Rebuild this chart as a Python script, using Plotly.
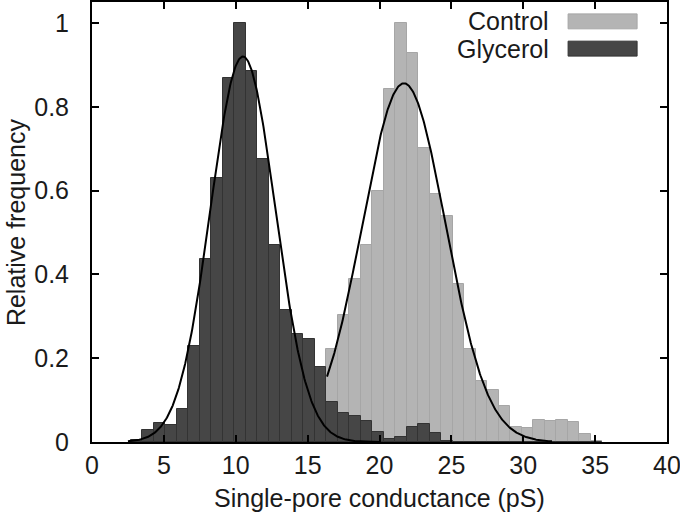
import numpy as np
import plotly.graph_objects as go

# Bin centres (pS), bin width 0.8
bin_centers = [3.1, 3.9, 4.7, 5.5, 6.3, 7.1, 7.9, 8.7, 9.5, 10.3, 11.1, 11.9, 12.7, 13.5,
               14.3, 15.1, 15.9, 16.7, 17.5, 18.3, 19.1, 19.9, 20.7, 21.5, 22.3, 23.1,
               23.9, 24.7, 25.5, 26.3, 27.1, 27.9, 28.7, 29.5, 30.3, 31.1, 31.9, 32.7,
               33.5, 34.3, 35.1]
bin_width = 0.8

glycerol = [0.005, 0.029, 0.045, 0.040, 0.078, 0.230, 0.437, 0.629, 0.869, 1.0,
            0.886, 0.675, 0.471, 0.314, 0.257, 0.246, 0.179, 0.096, 0.069, 0.061,
            0.049, 0.025, 0.006, 0.013, 0.035, 0.043, 0.021, 0.003,
            0, 0, 0, 0, 0, 0, 0, 0, 0, 0, 0, 0, 0]

control = [0, 0, 0, 0, 0, 0, 0, 0, 0, 0, 0, 0, 0, 0,
           0.01, 0.04, 0.12, 0.222, 0.304, 0.389, 0.47, 0.60, 0.842, 1.0, 0.928,
           0.701, 0.591, 0.539, 0.378, 0.223, 0.145, 0.125, 0.087, 0.037, 0.033,
           0.052, 0.049, 0.052, 0.047, 0.018, 0.003]

# Gaussian fit parameters (amplitude, mean, sigma) and visible drawn ranges
glycerol_fit = dict(amp=0.92, mu=10.5, sigma=2.25, x0=2.5, x1=20.0)
control_fit = dict(amp=0.856, mu=21.7, sigma=2.9, x0=16.35, x1=32.0)

x_ticks = [0, 5, 10, 15, 20, 25, 30, 35, 40]
y_ticks = [0, 0.2, 0.4, 0.6, 0.8, 1.0]
y_ticklabels = ["0", "0.2", "0.4", "0.6", "0.8", "1"]

LIGHT = "#b4b4b4"
LIGHT_EDGE = "#a6a6a6"
DARK = "#464646"
DARK_EDGE = "#333333"
FONT = "Liberation Sans, Arial, sans-serif"
FS = 25
TXT = "#1a1a1a"


def gauss_curve(p):
    xs = np.linspace(p["x0"], p["x1"], 400)
    ys = p["amp"] * np.exp(-(xs - p["mu"]) ** 2 / (2 * p["sigma"] ** 2))
    return xs, ys


fig = go.Figure()
fig.add_trace(go.Bar(x=bin_centers, y=control, width=bin_width, name="Control",
                     marker=dict(color=LIGHT, line=dict(color=LIGHT_EDGE, width=1)),
                     showlegend=False))
fig.add_trace(go.Bar(x=bin_centers, y=glycerol, width=bin_width, name="Glycerol",
                     marker=dict(color=DARK, line=dict(color=DARK_EDGE, width=1)),
                     showlegend=False))
cx, cy = gauss_curve(control_fit)
fig.add_trace(go.Scatter(x=cx, y=cy, mode="lines", line=dict(color="black", width=2),
                         showlegend=False))
gx, gy = gauss_curve(glycerol_fit)
fig.add_trace(go.Scatter(x=gx, y=gy, mode="lines", line=dict(color="black", width=2),
                         showlegend=False))

axis_common = dict(showline=True, mirror="ticks", linecolor="black", linewidth=2,
                   ticks="inside", ticklen=7, tickwidth=2, tickcolor="black",
                   showgrid=False, zeroline=False, automargin=False,
                   ticklabeloverflow="allow",
                   tickfont=dict(family=FONT, size=FS, color=TXT))

fig.update_xaxes(range=[0, 40], tickvals=x_ticks, ticklabelstandoff=0, **axis_common)
fig.update_yaxes(range=[0, 1.05], tickvals=y_ticks, ticktext=y_ticklabels,
                 ticklabelstandoff=16, **axis_common)

# Axis titles
fig.add_annotation(x=0.5, y=-0.127, xref="paper", yref="paper",
                   text="Single-pore conductance (pS)", showarrow=False,
                   xanchor="center", yanchor="middle",
                   font=dict(family=FONT, size=FS, color=TXT))
fig.add_annotation(x=-0.132, y=0.5, xref="paper", yref="paper",
                   text="Relative frequency", showarrow=False, textangle=-90,
                   xanchor="center", yanchor="middle",
                   font=dict(family=FONT, size=FS, color=TXT))

# Legend (text left, swatch right)
legend_items = [("Control", LIGHT, LIGHT_EDGE, 0.956, 0.973, 0.939),
                ("Glycerol", DARK, DARK_EDGE, 0.894, 0.911, 0.877)]
for label, fill, edge, ty, y1, y0 in legend_items:
    fig.add_annotation(x=0.798, y=ty, xref="paper", yref="paper", text=label,
                       showarrow=False, xanchor="right", yanchor="middle",
                       font=dict(family=FONT, size=FS, color=TXT))
    fig.add_shape(type="rect", xref="paper", yref="paper", x0=0.828, x1=0.948,
                  y0=y0, y1=y1, fillcolor=fill, line=dict(color=edge, width=1))

fig.update_layout(width=680, height=519, barmode="overlay", bargap=0,
                  plot_bgcolor="white", paper_bgcolor="white",
                  margin=dict(l=92, r=13, t=2, b=77),
                  font=dict(family=FONT, color=TXT), hovermode=False)

fig.write_html("out.html", config={"displayModeBar": False},
               post_script="document.body.style.margin='0';"
                           "document.body.style.overflow='hidden';")
